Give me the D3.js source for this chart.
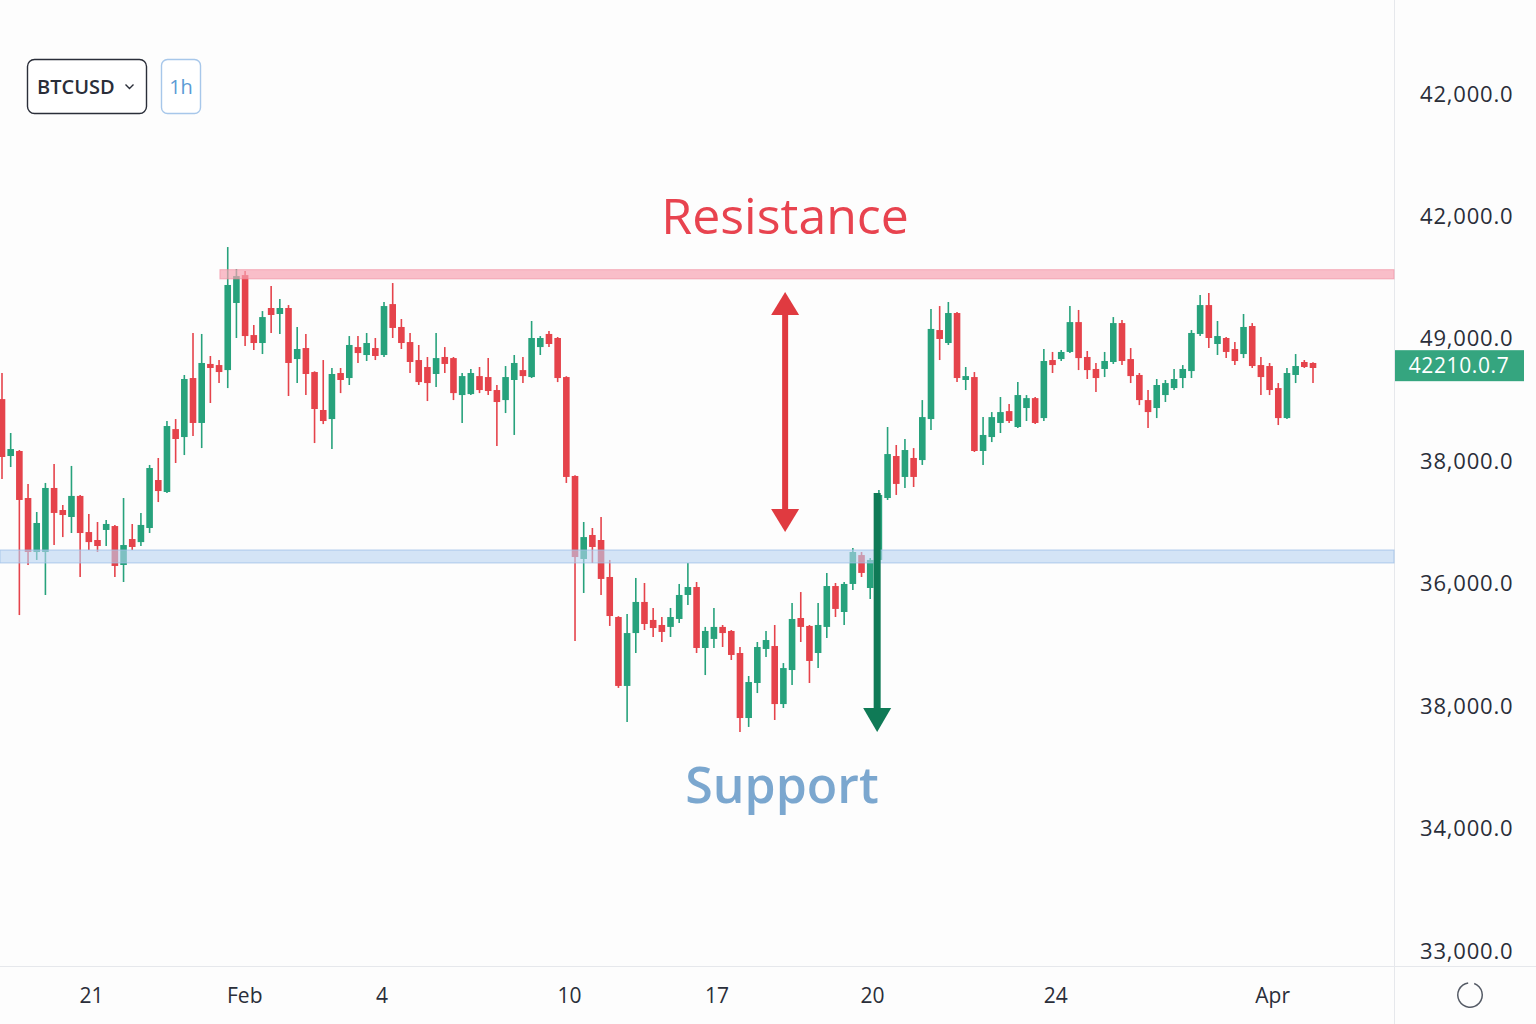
<!DOCTYPE html>
<html>
<head>
<meta charset="utf-8">
<script src="https://cdn.jsdelivr.net/npm/d3@7"></script>
<style>
  html, body { margin: 0; padding: 0; background: #fdfdfd; }
  svg { display: block; }
</style>
</head>
<body>
<svg id="chart" width="1536" height="1024"></svg>
<script>
// ---------------- DATA ----------------
const opens = [
37508,37043,37084,36700,36259,36259,36782,36602,36545,36717,36422,36357,36439,36471,36153,36365,36340,36455,36847,36749,
37263,37198,37680,37313,37795,37786,37745,38293,38521,38031,37966,38252,38203,38252,37835,37925,37729,37419,37345,37721,
37680,37933,37868,37925,37868,38284,38097,37974,37827,37770,37713,37852,37843,37541,37549,37696,37688,37582,37500,37664,
37745,37688,37933,38040,38007,37688,36880,36202,36398,36357,36055,35728,35165,35597,35851,35704,35663,35647,35712,35908,
35973,35475,35549,35647,35614,35434,34903,35189,35467,35491,35017,35295,35720,35655,35434,35647,35981,35769,35998,36234,
35965,36194,36700,37043,36872,37027,37010,37345,38072,37966,38211,37664,37688,37084,37198,37313,37410,37280,37435,37516,
37353,37827,37835,37893,38137,37852,37754,37754,37811,38129,37835,37705,37500,37435,37541,37598,37680,37737,38040,38276,
37958,38007,37917,37876,38105,37786,37778,37598,37353,37705,37811,37803];
const highs = [
37721,37231,37092,36815,36586,36823,36978,36643,36962,36725,36569,36504,36520,36480,36700,36488,36578,36970,37027,37329,
37345,37705,38048,38040,37860,37827,38750,38570,38554,38113,38227,38431,38325,38276,38097,38040,37735,37827,37762,37762,
38023,38023,38048,38007,38301,38456,38162,38048,37950,37852,38048,37933,37852,37721,37754,37770,37843,37623,37778,37868,
37852,38146,38023,38064,38015,37695,36885,36504,36455,36545,36194,35735,35753,36047,36006,35802,35728,35802,35998,36169,
36014,35647,35802,35663,35622,35483,35246,35524,35614,35663,35352,35843,35932,35663,35843,36088,36006,36014,36292,36259,
36210,36765,37280,37133,37182,37108,37500,38244,38268,38301,38219,37770,37729,37361,37402,37525,37467,37647,37541,37525,
37917,37893,37909,38268,38236,37901,37803,37893,38178,38154,37925,37721,37582,37672,37664,37754,37786,38072,38358,38374,
38146,38015,37974,38203,38129,37852,37803,37639,37762,37876,37827,37808];
const lows = [
36855,36953,35744,36153,36194,35908,36316,36381,36414,36055,36275,36259,36308,36055,36014,36275,36308,36414,36667,36741,
36986,37051,37206,37108,37476,37639,37598,38007,37942,37909,37876,38048,38040,37533,37639,37541,37149,37304,37100,37557,
37623,37803,37819,37827,37852,38007,37917,37721,37623,37492,37606,37721,37500,37313,37541,37557,37541,37125,37394,37215,
37639,37680,37868,37933,37647,36823,35533,35924,36169,35908,35655,35149,34870,35434,35622,35565,35524,35565,35679,35826,
35434,35254,35475,35483,35377,34789,34830,35107,35401,34887,34985,35173,35524,35189,35311,35557,35728,35663,35949,36055,
35875,36153,36684,36725,36782,36790,36970,37255,37827,37950,37647,37582,37076,36970,37157,37231,37313,37272,37329,37304,
37329,37721,37819,37884,37745,37672,37565,37688,37795,37786,37639,37459,37272,37353,37484,37582,37598,37680,38023,37925,
37868,37843,37786,37843,37762,37541,37541,37296,37345,37639,37762,37639];
const closes = [
37035,37100,36684,36259,36496,36782,36578,36561,36717,36414,36340,36308,36488,36145,36316,36300,36480,36945,36757,37288,
37182,37672,37313,37803,37762,37729,38440,38513,38023,37966,38178,38195,38252,37803,37917,37713,37427,37329,37713,37664,
37950,37884,37966,37860,38268,38089,37966,37811,37647,37639,37843,37795,37557,37696,37721,37582,37574,37484,37688,37803,
37696,38007,38007,37958,37680,36872,36218,36381,36300,36039,35736,35165,35597,35851,35671,35638,35606,35728,35908,35973,
35475,35614,35647,35597,35418,34903,35197,35483,35540,35017,35311,35712,35647,35369,35663,35981,35794,35998,36259,36088,
36194,36725,37059,36815,37092,36872,37361,38081,37999,38211,37680,37696,37084,37215,37361,37402,37329,37541,37516,37313,
37819,37786,37893,38137,37843,37745,37680,37819,38129,37819,37696,37500,37402,37623,37639,37672,37754,38048,38276,38007,
38023,37893,37819,38097,37778,37688,37582,37353,37721,37778,37770,37762];

// price axis (tick values and the labels printed beside them)
const yTickValues = [40000, 39000, 38000, 37000, 36000, 35000, 34000, 33000];
const yTickLabels = ["42,000.0", "42,000.0", "49,000.0", "38,000.0", "36,000.0", "38,000.0", "34,000.0", "33,000.0"];
// time axis (candle index positions and labels)
const xTickIndex = [10.25, 27.9, 43.7, 65.3, 82.3, 100.2, 121.3, 146.3];
const xTickLabels = ["21", "Feb", "4", "10", "17", "20", "24", "Apr"];

// zones & annotations
const resistanceZone = [38490, 38565];
const resistanceStartIndex = 25.1;
const supportZone = [36170, 36275];
const rangeArrow = { index: 90.2, top: 38382, bottom: 36422 };
const breakArrow = { index: 100.8, top: 36741, bottom: 34789 };
const lastPrice = 37785;
const lastPriceLabel = "42210.0.7";
const symbol = "BTCUSD";
const interval = "1h";

// ---------------- CHART ----------------
const W = 1536, H = 1024;
const plotRight = 1394, plotBottom = 966;
const GREEN = "#27a27c", RED = "#e5434b";
const svg = d3.select("#chart");
const FONT = "'Open Sans', 'Noto Sans', sans-serif";

svg.append("rect").attr("width", W).attr("height", H).attr("fill", "#fdfdfd");

const x = d3.scaleLinear().domain([0, opens.length - 1]).range([2, 1313]);
const y = d3.scaleLinear().domain([33000, 40000]).range([951, 94]);

const candles = opens.map((o, i) => ({ i, o, h: highs[i], l: lows[i], c: closes[i] }));

// separators
svg.append("line").attr("x1", plotRight + 0.5).attr("x2", plotRight + 0.5).attr("y1", 0).attr("y2", H)
  .attr("stroke", "#e6e8ec").attr("stroke-width", 1);
svg.append("line").attr("x1", 0).attr("x2", W).attr("y1", plotBottom + 0.5).attr("y2", plotBottom + 0.5)
  .attr("stroke", "#e6e8ec").attr("stroke-width", 1);

// candles
const cg = svg.append("g");
cg.selectAll("line.wick").data(candles).join("line")
  .attr("class", "wick")
  .attr("x1", d => x(d.i)).attr("x2", d => x(d.i))
  .attr("y1", d => y(d.h)).attr("y2", d => y(d.l))
  .attr("stroke", d => d.c >= d.o ? GREEN : RED).attr("stroke-width", 1.6);
const bw = 6.6;
cg.selectAll("rect.body").data(candles).join("rect")
  .attr("class", "body")
  .attr("x", d => x(d.i) - bw / 2)
  .attr("y", d => y(Math.max(d.o, d.c)))
  .attr("width", bw)
  .attr("height", d => Math.max(2, Math.abs(y(d.o) - y(d.c))))
  .attr("fill", d => d.c >= d.o ? GREEN : RED);

// zones
svg.append("rect")
  .attr("x", x(resistanceStartIndex)).attr("width", plotRight - x(resistanceStartIndex))
  .attr("y", y(resistanceZone[1])).attr("height", y(resistanceZone[0]) - y(resistanceZone[1]))
  .attr("fill", "#f7a3b2").attr("fill-opacity", 0.7)
  .attr("stroke", "#f08a9c").attr("stroke-opacity", 0.6).attr("stroke-width", 1);
svg.append("rect")
  .attr("x", 0).attr("width", plotRight)
  .attr("y", y(supportZone[1])).attr("height", y(supportZone[0]) - y(supportZone[1]))
  .attr("fill", "#b9d3f2").attr("fill-opacity", 0.6)
  .attr("stroke", "#9dbfe8").attr("stroke-opacity", 0.8).attr("stroke-width", 1);

// arrows
function arrowHead(g, cx, tipY, dir, w, h, color) {
  g.append("path")
    .attr("d", `M${cx},${tipY} L${cx - w / 2},${tipY + dir * h} L${cx + w / 2},${tipY + dir * h} Z`)
    .attr("fill", color);
}
const ag = svg.append("g");
{
  const cx = x(rangeArrow.index), t = y(rangeArrow.top), b = y(rangeArrow.bottom);
  const col = "#e03a40";
  ag.append("rect").attr("x", cx - 3).attr("width", 6).attr("y", t + 18).attr("height", b - t - 36).attr("fill", col);
  arrowHead(ag, cx, t, 1, 28, 23, col);
  arrowHead(ag, cx, b, -1, 28, 23, col);
}
{
  const cx = x(breakArrow.index), t = y(breakArrow.top), b = y(breakArrow.bottom);
  const col = "#0f7a56";
  ag.append("rect").attr("x", cx - 3.5).attr("width", 7).attr("y", t).attr("height", b - t - 20).attr("fill", col);
  arrowHead(ag, cx, b, -1, 28, 24, col);
}

// annotation labels
svg.append("text").attr("x", x(rangeArrow.index)).attr("y", 234)
  .attr("text-anchor", "middle").attr("font-family", FONT).attr("font-size", 50)
  .attr("fill", "#e8434f").text("Resistance");
svg.append("text").attr("x", 782).attr("y", 803)
  .attr("text-anchor", "middle").attr("font-family", FONT).attr("font-size", 50).attr("font-weight", 600)
  .attr("fill", "#7ba7cf").text("Support");

// y axis
const yAxis = svg.append("g").attr("transform", `translate(${plotRight},0)`)
  .call(d3.axisRight(y).tickValues(yTickValues).tickFormat((d, i) => yTickLabels[i]).tickSize(0).tickPadding(26));
yAxis.select(".domain").remove();
yAxis.selectAll("text").attr("font-family", FONT).attr("font-size", 22).attr("letter-spacing", 0.8)
  .attr("fill", "#2a2e39");

// last price tag
{
  const ty = y(lastPrice);
  svg.append("rect").attr("x", plotRight + 1).attr("y", ty - 15).attr("width", 129).attr("height", 31)
    .attr("fill", "#35a57f");
  svg.append("text").attr("x", plotRight + 65).attr("y", ty).attr("dy", "0.35em")
    .attr("text-anchor", "middle").attr("font-family", FONT).attr("font-size", 21).attr("letter-spacing", 0.6)
    .attr("fill", "#ffffff").text(lastPriceLabel);
}

// x axis
const xAxis = svg.append("g").attr("transform", `translate(0,${plotBottom})`)
  .call(d3.axisBottom(x).tickValues(xTickIndex).tickFormat((d, i) => xTickLabels[i]).tickSize(0).tickPadding(22));
xAxis.select(".domain").remove();
xAxis.selectAll("text").attr("font-family", FONT).attr("font-size", 21).attr("fill", "#2a2e39");

// loading circle icon
{
  const arc = d3.arc().innerRadius(11.5).outerRadius(13)
    .startAngle(0.35).endAngle(2 * Math.PI - 0.15);
  svg.append("path").attr("d", arc()).attr("transform", "translate(1470,995)").attr("fill", "#555b66");
}

// symbol & interval buttons
svg.append("rect").attr("x", 27.5).attr("y", 59.5).attr("width", 119).attr("height", 54).attr("rx", 7)
  .attr("fill", "#ffffff").attr("stroke", "#2a2e39").attr("stroke-width", 1.4);
svg.append("text").attr("x", 37).attr("y", 87).attr("dy", "0.35em")
  .attr("font-family", FONT).attr("font-size", 20).attr("font-weight", 600).attr("fill", "#2a2e39").text(symbol);
svg.append("path").attr("d", "M125.5,84.5 L129.5,88.5 L133.5,84.5")
  .attr("fill", "none").attr("stroke", "#2a2e39").attr("stroke-width", 1.4);
svg.append("rect").attr("x", 161.5).attr("y", 59.5).attr("width", 39).attr("height", 54).attr("rx", 6)
  .attr("fill", "#ffffff").attr("stroke", "#a7c7ea").attr("stroke-width", 1.4);
svg.append("text").attr("x", 181).attr("y", 87).attr("dy", "0.35em").attr("text-anchor", "middle")
  .attr("font-family", FONT).attr("font-size", 20).attr("fill", "#5b9bd5").text(interval);
</script>
</body>
</html>
